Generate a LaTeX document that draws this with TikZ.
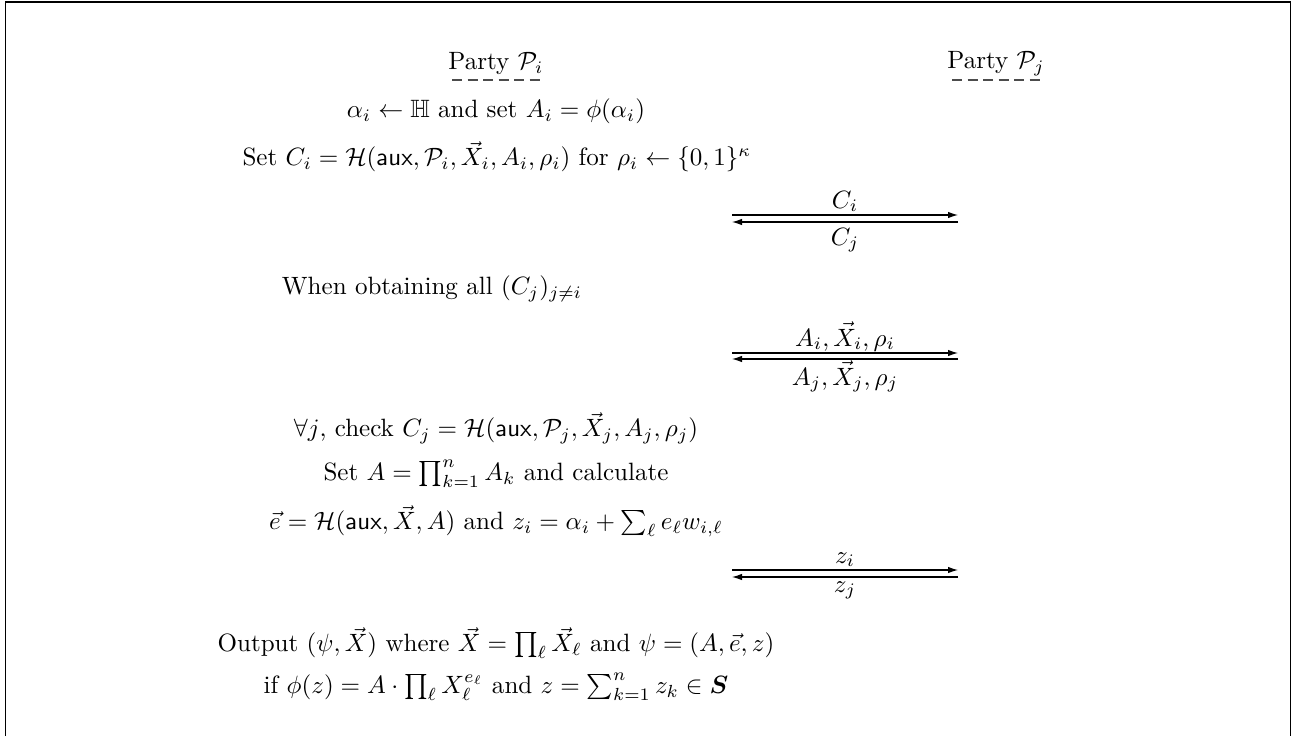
\documentclass[tikz,border=0pt]{standalone}
\usepackage{amsmath,amssymb}
\usetikzlibrary{arrows.meta}
\begin{document}
\begin{tikzpicture}[x=0.01404cm,y=-0.01404cm,
  txt/.style={inner sep=0pt,anchor=center},
  lbl/.style={inner sep=0pt,anchor=base},
  msg/.style={line width=0.45pt,-{Latex[length=4pt,width=2.6pt]}},
  uline/.style={line width=0.45pt,dash pattern=on 4.1pt off 2.1pt,black!70},
  frame/.style={line width=0.6pt}]
\useasboundingbox (0,0) rectangle (1298,736);
\draw[frame] (5.5,736) -- (5.5,2) -- (1290.5,2) -- (1290.5,736);

\node[txt] (pi) at (496,64) {Party $\mathcal{P}_i$};
\node[txt] (pj) at (996,64) {Party $\mathcal{P}_j$};
\coordinate (ui1) at (452,80); \coordinate (ui2) at (540,80);
\coordinate (uj1) at (952,80); \coordinate (uj2) at (1040,80);
\draw[uline] (ui1) -- (ui2);
\draw[uline] (uj1) -- (uj2);

\node[txt] (l1) at (496,111) {$\alpha_i \leftarrow \mathbb{H}$ and set $A_i = \phi(\alpha_i)$};
\node[txt] (l2) at (497,157) {Set $C_i = \mathcal{H}(\mathsf{aux}, \mathcal{P}_i, \vec{X}_i, A_i, \rho_i)$ for $\rho_i \leftarrow \{0,1\}^\kappa$};

% round 1
\coordinate (a1w) at (732,215); \coordinate (a1e) at (958,215);
\coordinate (b1w) at (732,222); \coordinate (b1e) at (958,222);
\draw[msg] (a1w) -- (a1e);
\draw[msg] (b1e) -- (b1w);
\node[lbl] (m1a) at (845,208) {$C_i$};
\node[lbl] (m1b) at (845,245) {$C_j$};

\node[txt] (l3) at (432,289) {When obtaining all $(C_j)_{j\neq i}$};

% round 2
\coordinate (a2w) at (732,353); \coordinate (a2e) at (958,353);
\coordinate (b2w) at (732,359); \coordinate (b2e) at (958,359);
\draw[msg] (a2w) -- (a2e);
\draw[msg] (b2e) -- (b2w);
\node[lbl] (m2a) at (845,346) {$A_i, \vec{X}_i, \rho_i$};
\node[lbl] (m2b) at (845,385) {$A_j, \vec{X}_j, \rho_j$};

\node[txt] (l4) at (496,428) {$\forall j$, check $C_j = \mathcal{H}(\mathsf{aux}, \mathcal{P}_j, \vec{X}_j, A_j, \rho_j)$};
\node[txt] (l5) at (496,474) {Set $A = \prod_{k=1}^n A_k$ and calculate};
\node[txt] (l6) at (496,521) {$\vec{e} = \mathcal{H}(\mathsf{aux}, \vec{X}, A)$ and $z_i = \alpha_i + \sum_\ell e_\ell w_{i,\ell}$};

% round 3
\coordinate (a3w) at (732,570); \coordinate (a3e) at (958,570);
\coordinate (b3w) at (732,577); \coordinate (b3e) at (958,577);
\draw[msg] (a3w) -- (a3e);
\draw[msg] (b3e) -- (b3w);
\node[lbl] (m3a) at (845,563) {$z_i$};
\node[lbl] (m3b) at (845,592) {$z_j$};

\node[txt] (l7) at (496,643) {Output $(\psi, \vec{X})$ where $\vec{X} = \prod_\ell \vec{X}_\ell$ and $\psi = (A, \vec{e}, z)$};
\node[txt] (l8) at (496,687) {if $\phi(z) = A \cdot \prod_\ell X_\ell^{e_\ell}$ and $z = \sum_{k=1}^n z_k \in \boldsymbol{S}$};
\end{tikzpicture}
\end{document}
